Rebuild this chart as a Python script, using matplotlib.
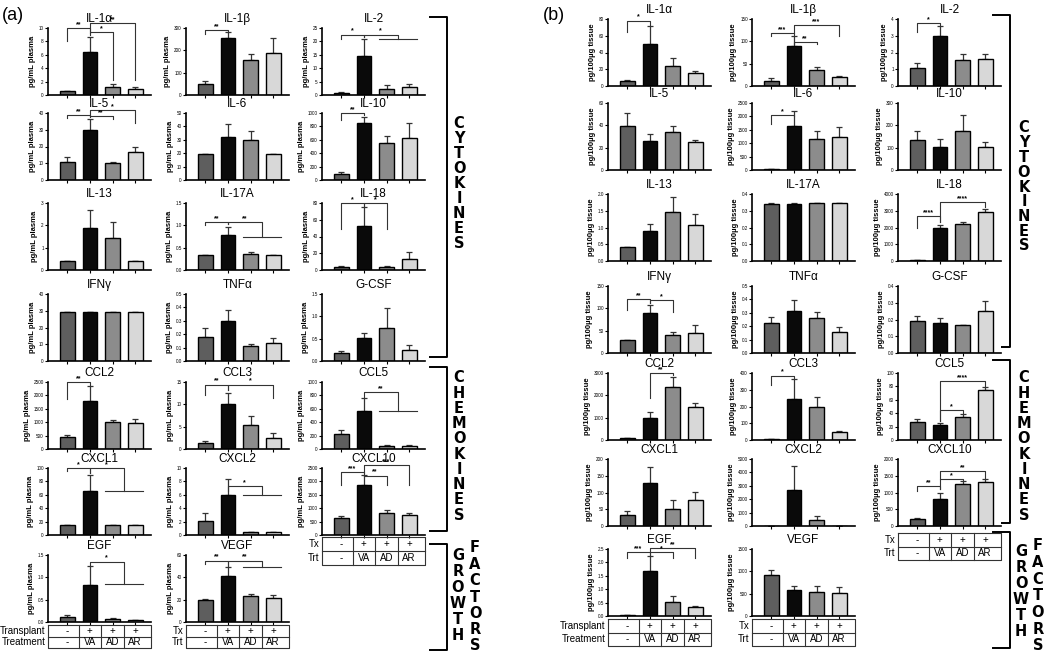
import numpy as np
import matplotlib.pyplot as plt

W, H = 1050, 656
plt.rcParams['font.family'] = ['Liberation Sans', 'DejaVu Sans']

# ---- data ----
titles = ['IL-1α', 'IL-1β', 'IL-2', 'IL-5', 'IL-6', 'IL-10', 'IL-13', 'IL-17A', 'IL-18',
          'IFNγ', 'TNFα', 'G-CSF', 'CCL2', 'CCL3', 'CCL5', 'CXCL1', 'CXCL2', 'CXCL10',
          'EGF', 'VEGF']
transplant = ['-', '+', '+', '+']
treatment = ['-', 'VA', 'AD', 'AR']
bar_colors = ['#5e5e5e', '#0a0a0a', '#8c8c8c', '#d8d8d8']

# panel (a): plasma, pg/mL
a_means = [[0.6, 6.4, 1.2, 0.95], [50, 255, 155, 188], [0.9, 14.6, 2.4, 3.0],
           [11, 30, 10, 17], [19.5, 32, 29.5, 19.5], [95, 850, 550, 620],
           [0.42, 1.9, 1.45, 0.42], [0.34, 0.79, 0.36, 0.34], [3.5, 53, 3, 13],
           [29, 29, 29, 29], [0.18, 0.295, 0.11, 0.138], [0.19, 0.51, 0.74, 0.25],
           [450, 1800, 1020, 980], [1.3, 10, 5.3, 2.4], [222, 560, 49, 44],
           [15, 65, 15, 15], [2.1, 5.9, 0.4, 0.4], [640, 1860, 835, 730],
           [0.12, 0.83, 0.07, 0.04], [20, 41.5, 23.5, 21.5]]
a_errs = [[0, 2.3, 0.5, 0.3], [13, 27, 30, 67], [0.4, 6.2, 1.4, 1.2],
          [3, 6.5, 1, 3], [0, 10, 7, 0], [25, 90, 105, 235],
          [0, 0.8, 0.72, 0], [0, 0.17, 0.04, 0], [1, 22, 1.5, 8.5],
          [0, 0, 0, 0], [0.068, 0.085, 0.015, 0.037], [0.03, 0.12, 0.44, 0.11],
          [70, 550, 80, 140], [0.4, 2.6, 2.1, 1.1], [55, 205, 10, 10],
          [0, 25, 0, 0], [1.2, 2.5, 0, 0], [85, 370, 110, 105],
          [0.04, 0.42, 0.03, 0.015], [1, 7.5, 2, 2.5]]
a_ytop = [10, 300, 25, 40, 50, 1000, 3, 1.5, 80, 40, 0.5, 1.5, 2500, 15, 1000, 100, 10, 2500, 1.5, 60]
a_ystep = [2, 100, 5, 10, 10, 200, 1, 0.5, 20, 10, 0.1, 0.5, 500, 5, 200, 20, 2, 500, 0.5, 20]
# significance: (bar i, bar j or 'g' = group of bars 2-3, bracket y, left leg end, right leg end, label)
a_sig = [[(0, 1, 10.0, 8.0, 9.2, '**'), (1, 2, 9.4, 9.0, 2.2, '*'), (1, 3, 10.7, 9.6, 2.2, '**')],
         [(0, 1, 290, 272, 283, '**')],
         [(0, 1, 22.5, 21.0, 21.8, '*'), (1, 'g', 22.5, 21.8, 21.0, '*')],
         [(0, 1, 38.8, 37, 38, '**'), (1, 2, 38, 37.5, 36.4, '**'), (1, 3, 41.5, 38.5, 34, '*')],
         [], [(0, 1, 1000, 900, 965, '**')], [],
         [(0, 1, 1.08, 1.0, 1.03, '**'), (1, 'g', 1.08, 1.03, 0.74, '**')],
         [(0, 1, 80, 49, 76, '*'), (1, 2, 80, 76, 49, '*')],
         [], [], [],
         [(0, 1, 2500, 1850, 2380, '**')],
         [(0, 1, 14.4, 12, 13.2, '**'), (1, 3, 14.4, 13.2, 11.5, '*')],
         [(1, 'g', 850, 780, 570, '**')],
         [(0, 1, 100, 96, 93, '*'), (1, 'g', 100, 93, 65, '*')],
         [(1, 'g', 7.3, 6.6, 6.0, '*')],
         [(0, 1, 2340, 1860, 2290, '***'), (1, 2, 2220, 2200, 1860, '**'), (1, 3, 2600, 2300, 1860, '***')],
         [(1, 'g', 1.35, 1.26, 0.84, '*')],
         [(0, 1, 55, 52, 50, '**'), (1, 'g', 55, 50, 49.5, '**')]]

# panel (b): tissue, pg/100µg
b_means = [[6, 50, 24, 16], [12, 90, 36, 19.5], [1.1, 3.0, 1.55, 1.6],
           [39.5, 26, 34, 25.5], [30, 1640, 1140, 1220], [135, 105, 175, 105],
           [0.43, 0.9, 1.45, 1.07], [0.343, 0.343, 0.348, 0.348], [60, 2000, 2200, 2950],
           [28, 88.5, 40.5, 45.5], [0.222, 0.315, 0.258, 0.157], [0.192, 0.18, 0.165, 0.25],
           [75, 970, 2360, 1460], [3, 245, 200, 45], [27, 23, 35, 75],
           [32, 127, 52, 79], [0, 2700, 475, 10], [200, 800, 1250, 1300],
           [0.03, 1.68, 0.53, 0.32], [925, 585, 545, 525]]
b_errs = [[1.2, 21.5, 9.5, 2.4], [5, 21, 7.5, 3.5], [0.3, 0.6, 0.35, 0.3],
          [11.5, 6, 5, 1.5], [18, 550, 310, 370], [40, 35, 70, 20],
          [0, 0.2, 0.45, 0.33], [0.006, 0.006, 0, 0], [20, 150, 100, 150],
          [0, 20, 7.5, 17], [0.045, 0.08, 0.047, 0.037], [0.026, 0.03, 0.004, 0.06],
          [30, 295, 470, 175], [0, 118, 58, 6], [5, 3, 4, 4],
          [12, 48, 26, 23], [0, 1750, 250, 0], [40, 200, 100, 100],
          [0.01, 0.55, 0.22, 0.05], [110, 95, 135, 125]]
b_ytop = [80, 150, 4, 60, 2500, 300, 2.0, 0.4, 4000, 150, 0.5, 0.4, 3000, 400, 100, 200, 5000, 2000, 2.5, 1500]
b_ystep = [20, 50, 1, 20, 500, 100, 0.5, 0.1, 1000, 50, 0.1, 0.1, 1000, 100, 20, 50, 1000, 500, 0.5, 500]
b_sig = [[(0, 1, 78, 65, 73, '*')],
         [(0, 1, 118, 113, 114, '***'), (1, 2, 98, 95, 94, '**'), (1, 3, 137, 118, 113, '***')],
         [(0, 1, 3.75, 3.2, 3.65, '*')],
         [], [(0, 1, 2060, 1700, 2000, '*')], [], [], [],
         [(0, 1, 2700, 2000, 2300, '****'), (1, 3, 3500, 2300, 3200, '****')],
         [(0, 1, 120, 96, 111, '**'), (1, 2, 118, 111, 92, '*')],
         [], [],
         [(1, 2, 3000, 1900, 2900, '**')],
         [(0, 1, 385, 330, 370, '*')],
         [(1, 2, 45, 28, 40, '*'), (1, 3, 88, 28, 80, '****')],
         [], [],
         [(0, 1, 1200, 1030, 1100, '**'), (1, 2, 1400, 1100, 1360, '*'), (1, 3, 1640, 1400, 1420, '**')],
         [(0, 1, 2.37, 2.16, 2.25, '***'), (1, 2, 2.37, 2.25, 2.16, '*'), (1, 3, 2.54, 2.4, 2.16, '**')],
         []]

# ---- layout (pixels) ----
XL = (-0.85, 3.7)
fig = plt.figure(figsize=(W / 100, H / 100), dpi=100)


def px(l, t, w, h):
    return [l / W, 1 - (t + h) / H, w / W, h / H]


def draw_panel(ax, title, means, errs, ytop, ystep, sigs, ylabel):
    x = np.arange(4)
    ax.bar(x, means, width=0.65, color=bar_colors, edgecolor='black', linewidth=1.0, zorder=2)
    ax.errorbar(x, means, yerr=[np.zeros(4), errs], fmt='none', ecolor='#333333',
                elinewidth=0.9, capsize=2.5, capthick=0.9, zorder=1.5)
    ax.set_xlim(*XL)
    ax.set_ylim(0, ytop)
    ticks = np.arange(0, ytop + ystep / 2, ystep)
    dec = 1 if ystep < 1 else 0
    ax.set_yticks(ticks)
    ax.set_yticklabels([f'{t:.{dec}f}' for t in ticks])
    ax.set_xticks(x)
    ax.set_xticklabels([])
    for s in ['top', 'right']:
        ax.spines[s].set_visible(False)
    for s in ['left', 'bottom']:
        ax.spines[s].set_linewidth(1.2)
    ax.tick_params(axis='y', labelsize=3.3, length=2, width=0.8, pad=1)
    ax.tick_params(axis='x', length=2, width=0.8)
    ax.set_title(title, fontsize=8.5, pad=4.5)
    ax.set_ylabel(ylabel, fontsize=5.5, fontweight='bold', labelpad=2)
    for i, j, y, yl, yr, txt in sigs:
        if j == 'g':
            xr = 2.5
            ax.plot([1.65, 3.35], [yr, yr], color='#333333', lw=0.8, clip_on=False)
        else:
            xr = j
        ax.plot([i, i, xr, xr], [yl, y, y, yr], color='#333333', lw=0.8, clip_on=False)
        ax.text((i + xr) / 2, y, txt, ha='center', va='bottom', fontsize=5,
                fontweight='bold', clip_on=False)


def draw_table(l, t, w, h, lab1, lab2):
    tax = fig.add_axes(px(l, t, w, h))
    tax.set_xlim(*XL)
    tax.set_ylim(2, 0)
    tax.axis('off')
    kw = dict(color='#333333', lw=0.8, clip_on=False)
    tax.plot([XL[0], XL[1], XL[1], XL[0], XL[0]], [0, 0, 2, 2, 0], **kw)
    tax.plot(list(XL), [1, 1], **kw)
    for b in [0.5, 1.5, 2.5]:
        tax.plot([b, b], [0, 2], **kw)
    for k in range(4):
        tax.text(k, 0.5, transplant[k], ha='center', va='center', fontsize=7)
        tax.text(k, 1.5, treatment[k], ha='center', va='center', fontsize=7)
    tax.annotate(lab1, (XL[0], 0.5), xytext=(-2, 0), textcoords='offset points',
                 ha='right', va='center', fontsize=7)
    tax.annotate(lab2, (XL[0], 1.5), xytext=(-2, 0), textcoords='offset points',
                 ha='right', va='center', fontsize=7)


a_cols = [48, 186, 322]
a_rows = [28, 113, 203, 294, 382, 468, 555]
b_cols = [608, 752, 898]
b_rows = [19, 103, 194, 286, 373, 459, 549]
AW, AH = 103, 67

for k, name in enumerate(titles):
    r, c = divmod(k, 3)
    ax = fig.add_axes(px(a_cols[c], a_rows[r], AW, AH))
    draw_panel(ax, name, a_means[k], a_errs[k], a_ytop[k], a_ystep[k], a_sig[k], 'pg/mL plasma')
    ax = fig.add_axes(px(b_cols[c], b_rows[r], AW, AH))
    draw_panel(ax, name, b_means[k], b_errs[k], b_ytop[k], b_ystep[k], b_sig[k], 'pg/100µg tissue')

draw_table(a_cols[0], 625, AW, 23, 'Transplant', 'Treatment')
draw_table(a_cols[1], 625, AW, 23, 'Tx', 'Trt')
draw_table(a_cols[2], 537, AW, 28, 'Tx', 'Trt')
draw_table(b_cols[0], 619, AW, 27, 'Transplant', 'Treatment')
draw_table(b_cols[1], 619, AW, 27, 'Tx', 'Trt')
draw_table(b_cols[2], 533, AW, 27, 'Tx', 'Trt')

# ---- side brackets and labels ----
ov = fig.add_axes([0, 0, 1, 1], zorder=-1)
ov.set_xlim(0, W)
ov.set_ylim(H, 0)
ov.axis('off')


def side_bracket(x0, x1, y0, y1):
    ov.plot([x0, x1, x1, x0], [y0, y0, y1, y1], color='black', lw=1.4)


def stacked(word, x, y0, y1):
    for ch, yy in zip(word, np.linspace(y0, y1, len(word))):
        ov.text(x, yy, ch, ha='center', va='center', fontsize=10.5, fontweight='heavy',
                family='DejaVu Sans')


side_bracket(430, 447, 17, 357)
side_bracket(430, 447, 367, 531)
side_bracket(430, 447, 544, 650)
stacked('CYTOKINES', 459, 123, 244)
stacked('CHEMOKINES', 459, 378, 515)
stacked('GROWTH', 458, 556, 636)
stacked('FACTORS', 475, 548, 646)

side_bracket(993, 1010, 15, 347)
side_bracket(993, 1010, 360, 523)
side_bracket(993, 1010, 532, 648)
stacked('CYTOKINES', 1024, 128, 246)
stacked('CHEMOKINES', 1024, 378, 515)
stacked('GROWTH', 1021, 552, 632)
stacked('FACTORS', 1038, 546, 646)

ov.text(2, 15, '(a)', fontsize=13, ha='left', va='center')
ov.text(543, 15, '(b)', fontsize=13, ha='left', va='center')

fig.savefig('out.png', dpi=100)
